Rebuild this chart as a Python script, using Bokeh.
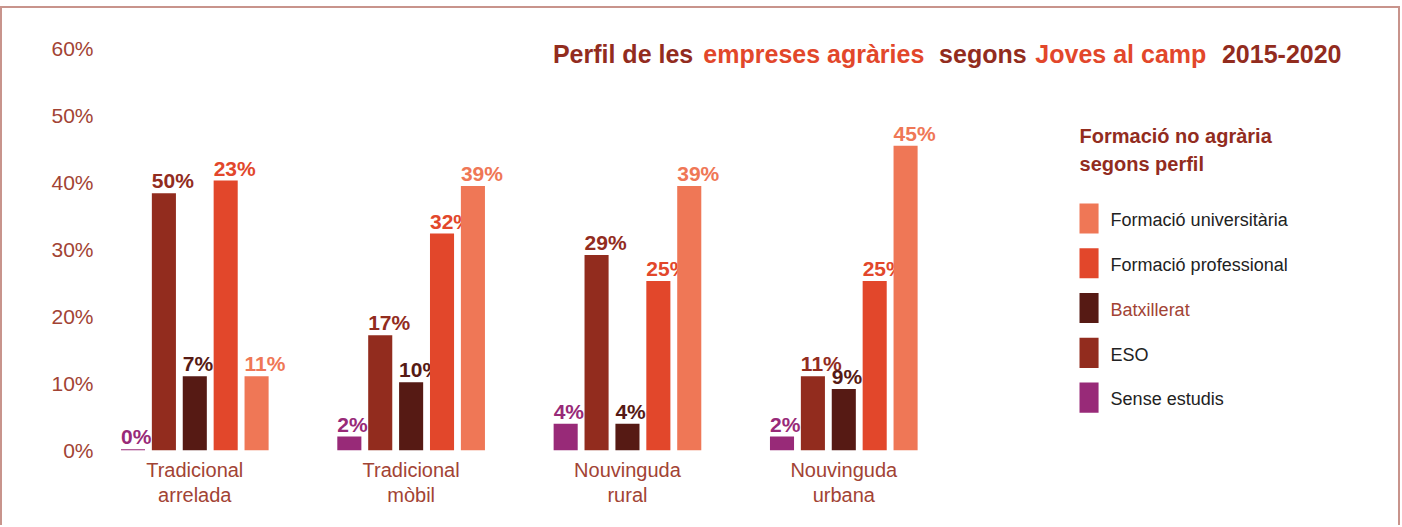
from bokeh.plotting import figure
from bokeh.models import Range1d, FixedTicker, Label, BoxAnnotation, ColumnDataSource
from bokeh.transform import dodge
from bokeh.embed import file_html
from bokeh.resources import INLINE
from bokeh.core.properties import value

# ---------------- data ----------------
categories = ["Tradicional\narrelada", "Tradicional\nmòbil", "Nouvinguda\nrural", "Nouvinguda\nurbana"]
series = ["Sense estudis", "ESO", "Batxillerat", "Formació professional", "Formació universitària"]
colors = ["#982A78", "#922C1E", "#561A14", "#E2472B", "#EF7756"]

# bar heights (%) as drawn in the picture
sense_estudis = [0.2, 2.1, 4.0, 2.1]
eso = [38.4, 17.2, 29.2, 11.1]
batxillerat = [11.1, 10.2, 4.0, 9.2]
formacio_professional = [40.3, 32.4, 25.3, 25.3]
formacio_universitaria = [11.1, 39.5, 39.5, 45.5]

# value labels as printed
label_sense = ["0%", "2%", "4%", "2%"]
label_eso = ["50%", "17%", "29%", "11%"]
label_batx = ["7%", "10%", "4%", "9%"]
label_fp = ["23%", "32%", "25%", "25%"]
label_univ = ["11%", "39%", "39%", "45%"]

y_ticks = [0, 10, 20, 30, 40, 50, 60]
y_tick_labels = ["0%", "10%", "20%", "30%", "40%", "50%", "60%"]

title_parts = ["Perfil de les", "empreses agràries", "segons", "Joves al camp", "2015-2020"]
legend_title = ["Formació no agrària", "segons perfil"]

# ---------------- styling / layout ----------------
DARK = "#922C1E"
ORANGE = "#E2472B"
AXIS_TXT = "#A24334"
FONT = "Liberation Sans"
BASE_FIX = 0.4         # baseline correction (em) for svg text

OX, OY = 3, 8          # canvas origin on the page
W, H = 1396, 517
FL = 98                # frame left (canvas px)
FB = 440               # frame bottom (canvas px)
PXU = 215.67           # px per group
X0 = (FL + OX - 195) / PXU
X1 = X0 + (W - FL) / PXU
PYU = 400 / 60
Y1 = FB / PYU

def X(sx):  # page px -> data x
    return X0 + (sx - OX - FL) / PXU

def Y(sy, fs=0):  # page px (text baseline) -> data y
    return (FB + OY - sy + BASE_FIX * fs) / PYU

p = figure(width=W, height=H, output_backend="svg", toolbar_location=None,
           x_range=Range1d(X0, X1), y_range=Range1d(0, Y1),
           min_border_left=FL, min_border_right=0, min_border_top=0,
           min_border_bottom=H - FB)
p.outline_line_color = None
p.xgrid.visible = False
p.ygrid.visible = False
p.background_fill_color = "white"
p.border_fill_color = "white"
BORDER = "2px solid #C8948C"
p.styles = {"box-sizing": "content-box", "margin-top": "6px", "border-top": BORDER,
            "border-left": BORDER, "border-right": BORDER}

# y axis
ya = p.yaxis[0]
ya.ticker = FixedTicker(ticks=y_ticks)
ya.major_label_overrides = {t: l for t, l in zip(y_ticks, y_tick_labels)}
ya.axis_line_color = None
ya.major_tick_line_color = None
ya.minor_tick_line_color = None
ya.major_tick_out = 0
ya.major_tick_in = 0
ya.major_label_text_font = FONT
ya.major_label_text_font_size = "21px"
ya.major_label_text_color = AXIS_TXT
ya.major_label_standoff = 7

# x axis with category names
xa = p.xaxis[0]
xa.ticker = FixedTicker(ticks=list(range(len(categories))))
xa.major_label_overrides = {i: c for i, c in enumerate(categories)}
xa.axis_line_color = None
xa.major_tick_line_color = None
xa.minor_tick_line_color = None
xa.major_tick_out = 0
xa.major_tick_in = 0
xa.major_label_text_font = FONT
xa.major_label_text_font_size = "20px"
xa.major_label_text_color = AXIS_TXT
xa.major_label_text_line_height = 1.15
xa.major_label_standoff = 8

src = ColumnDataSource(dict(
    x=list(range(len(categories))),
    s0=sense_estudis, s1=eso, s2=batxillerat, s3=formacio_professional, s4=formacio_universitaria,
    l0=label_sense, l1=label_eso, l2=label_batx, l3=label_fp, l4=label_univ,
))

STEP = 30.8 / PXU
BW = 24 / PXU
VFS = 21
for k in range(len(series)):
    off = (k - 2) * STEP
    p.vbar(x=dodge("x", off, range=p.x_range), top=f"s{k}", width=BW, bottom=0,
           source=src, fill_color=colors[k], line_color=None)
    p.text(x=dodge("x", off - BW / 2, range=p.x_range), y=f"s{k}", text=f"l{k}",
           source=src, text_font=value(FONT), text_font_style="bold",
           text_font_size=f"{VFS}px", text_color=colors[k], text_align="left",
           text_baseline="alphabetic", y_offset=-(4 + BASE_FIX * VFS))

# title (multi-colour)
title_x = [552, 702, 937, 1033, 1219]
title_col = [DARK, ORANGE, DARK, ORANGE, DARK]
for t, sx, c in zip(title_parts, title_x, title_col):
    p.add_layout(Label(x=X(sx), y=Y(63, 25), text=t, text_font=FONT, text_font_size="25px",
                       text_font_style="bold", text_color=c, text_align="left",
                       text_baseline="alphabetic"))

# legend title
for i, t in enumerate(legend_title):
    p.add_layout(Label(x=X(1077), y=Y(143 + i * 27.5, 20), text=t, text_font=FONT,
                       text_font_size="20px", text_font_style="bold", text_color=DARK,
                       text_align="left", text_baseline="alphabetic"))

# legend items (top to bottom: universitària ... sense estudis)
for j, k in enumerate(reversed(range(len(series)))):
    top = 202 + j * 44.6
    p.add_layout(BoxAnnotation(left=X(1077), right=X(1096), top=Y(top), bottom=Y(top + 30),
                               fill_color=colors[k], fill_alpha=1.0, line_color=None))
    p.add_layout(Label(x=X(1108), y=Y(top + 24, 18), text=series[k], text_font=FONT,
                       text_font_size="18px",
                       text_color=AXIS_TXT if series[k] == "Batxillerat" else "#222222",
                       text_align="left", text_baseline="alphabetic"))

open("out.html", "w").write(file_html(p, INLINE))
